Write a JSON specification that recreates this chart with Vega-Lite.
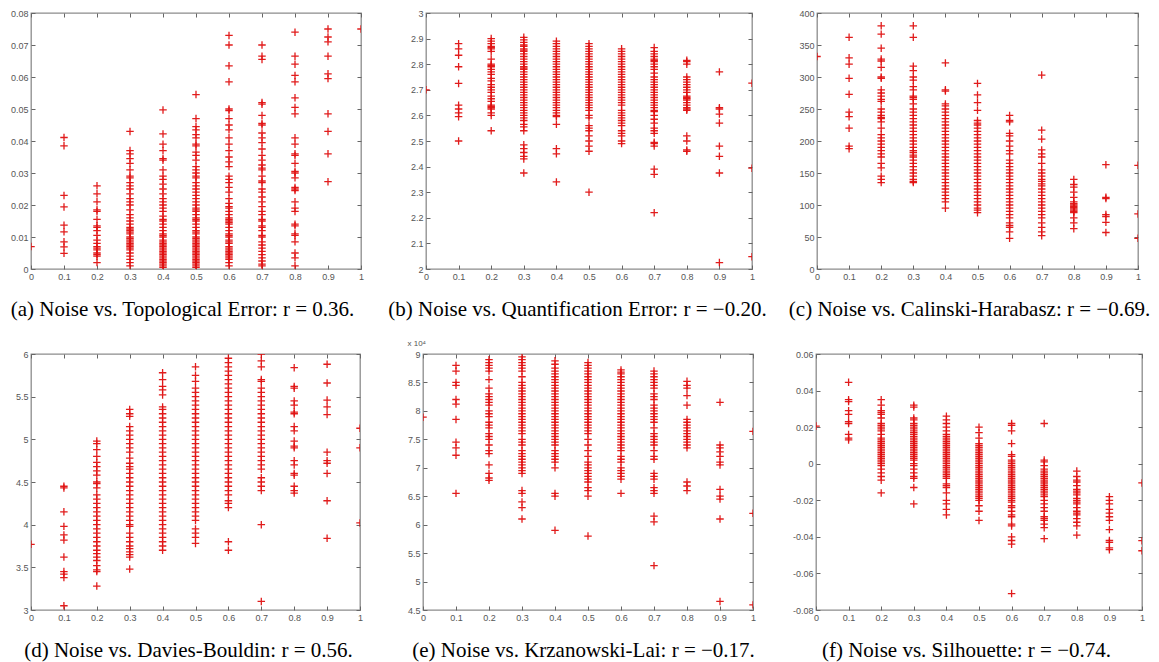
{
"$schema": "https://vega.github.io/schema/vega-lite/v6.json",
"padding": {"left": 9, "top": 8, "right": 5, "bottom": 1},
"background": "white",
"spacing": 19,
"config": {
 "view": {"stroke": "#8c8c8c", "strokeWidth": 1.3},
 "axis": {"domain": false, "grid": false, "tickSize": -4, "tickColor": "#666", "tickWidth": 1, "labelFont": "Liberation Sans", "labelFontSize": 9, "labelColor": "#555", "labelPadding": 7, "labelFlush": false, "labelOverlap": false, "titleFont": "Liberation Serif", "titleFontSize": 21, "titleFontWeight": "normal", "titleColor": "#000", "titlePadding": 17},
 "point": {"shape": "M-1,0L1,0M0,-1L0,1", "size": 56, "filled": false, "stroke": "#e01010", "strokeWidth": 1.3, "opacity": 0.95}
},
"datasets": {
"a": [
{"x":0,"y":0.007},
{"x":0.1,"y":0.0411},{"x":0.1,"y":0.0385},{"x":0.1,"y":0.023},{"x":0.1,"y":0.0194},{"x":0.1,"y":0.0137},{"x":0.1,"y":0.0116},{"x":0.1,"y":0.0085},{"x":0.1,"y":0.0069},{"x":0.1,"y":0.0049},
{"x":0.2,"y":0.026},{"x":0.2,"y":0.0235},{"x":0.2,"y":0.021},{"x":0.2,"y":0.0185},{"x":0.2,"y":0.018},{"x":0.2,"y":0.0155},{"x":0.2,"y":0.0135},{"x":0.2,"y":0.013},{"x":0.2,"y":0.012},{"x":0.2,"y":0.0105},{"x":0.2,"y":0.009},{"x":0.2,"y":0.008},{"x":0.2,"y":0.007},{"x":0.2,"y":0.0065},{"x":0.2,"y":0.006},{"x":0.2,"y":0.005},{"x":0.2,"y":0.0045},{"x":0.2,"y":0.004},{"x":0.2,"y":0.002},
{"x":0.3,"y":0.043},{"x":0.3,"y":0.037},{"x":0.3,"y":0.036},{"x":0.3,"y":0.0345},{"x":0.3,"y":0.033},{"x":0.3,"y":0.031},{"x":0.3,"y":0.029},{"x":0.3,"y":0.0285},{"x":0.3,"y":0.027},{"x":0.3,"y":0.026},{"x":0.3,"y":0.025},{"x":0.3,"y":0.0235},{"x":0.3,"y":0.022},{"x":0.3,"y":0.021},{"x":0.3,"y":0.02},{"x":0.3,"y":0.0185},{"x":0.3,"y":0.017},{"x":0.3,"y":0.016},{"x":0.3,"y":0.015},{"x":0.3,"y":0.014},{"x":0.3,"y":0.013},{"x":0.3,"y":0.0125},{"x":0.3,"y":0.012},{"x":0.3,"y":0.0115},{"x":0.3,"y":0.011},{"x":0.3,"y":0.01},{"x":0.3,"y":0.0095},{"x":0.3,"y":0.009},{"x":0.3,"y":0.0085},{"x":0.3,"y":0.008},{"x":0.3,"y":0.0075},{"x":0.3,"y":0.007},{"x":0.3,"y":0.0065},{"x":0.3,"y":0.006},{"x":0.3,"y":0.005},{"x":0.3,"y":0.004},{"x":0.3,"y":0.003},{"x":0.3,"y":0.002},{"x":0.3,"y":0.001},
{"x":0.4,"y":0.0497},{"x":0.4,"y":0.0422},{"x":0.4,"y":0.039},{"x":0.4,"y":0.037},{"x":0.4,"y":0.0345},{"x":0.4,"y":0.034},{"x":0.4,"y":0.031},{"x":0.4,"y":0.029},{"x":0.4,"y":0.028},{"x":0.4,"y":0.0265},{"x":0.4,"y":0.025},{"x":0.4,"y":0.0235},{"x":0.4,"y":0.022},{"x":0.4,"y":0.021},{"x":0.4,"y":0.02},{"x":0.4,"y":0.019},{"x":0.4,"y":0.018},{"x":0.4,"y":0.0165},{"x":0.4,"y":0.0155},{"x":0.4,"y":0.015},{"x":0.4,"y":0.014},{"x":0.4,"y":0.013},{"x":0.4,"y":0.012},{"x":0.4,"y":0.011},{"x":0.4,"y":0.0105},{"x":0.4,"y":0.01},{"x":0.4,"y":0.009},{"x":0.4,"y":0.0085},{"x":0.4,"y":0.008},{"x":0.4,"y":0.0075},{"x":0.4,"y":0.007},{"x":0.4,"y":0.0065},{"x":0.4,"y":0.006},{"x":0.4,"y":0.0055},{"x":0.4,"y":0.005},{"x":0.4,"y":0.0045},{"x":0.4,"y":0.004},{"x":0.4,"y":0.0035},{"x":0.4,"y":0.003},{"x":0.4,"y":0.0025},{"x":0.4,"y":0.002},{"x":0.4,"y":0.0015},{"x":0.4,"y":0.001},{"x":0.4,"y":0.0005},
{"x":0.5,"y":0.0545},{"x":0.5,"y":0.047},{"x":0.5,"y":0.0445},{"x":0.5,"y":0.0435},{"x":0.5,"y":0.042},{"x":0.5,"y":0.041},{"x":0.5,"y":0.039},{"x":0.5,"y":0.0385},{"x":0.5,"y":0.0365},{"x":0.5,"y":0.0355},{"x":0.5,"y":0.034},{"x":0.5,"y":0.032},{"x":0.5,"y":0.031},{"x":0.5,"y":0.03},{"x":0.5,"y":0.029},{"x":0.5,"y":0.0285},{"x":0.5,"y":0.027},{"x":0.5,"y":0.026},{"x":0.5,"y":0.025},{"x":0.5,"y":0.024},{"x":0.5,"y":0.023},{"x":0.5,"y":0.022},{"x":0.5,"y":0.021},{"x":0.5,"y":0.02},{"x":0.5,"y":0.019},{"x":0.5,"y":0.0185},{"x":0.5,"y":0.018},{"x":0.5,"y":0.017},{"x":0.5,"y":0.016},{"x":0.5,"y":0.0155},{"x":0.5,"y":0.015},{"x":0.5,"y":0.014},{"x":0.5,"y":0.013},{"x":0.5,"y":0.012},{"x":0.5,"y":0.0115},{"x":0.5,"y":0.011},{"x":0.5,"y":0.01},{"x":0.5,"y":0.0095},{"x":0.5,"y":0.009},{"x":0.5,"y":0.0085},{"x":0.5,"y":0.008},{"x":0.5,"y":0.0075},{"x":0.5,"y":0.007},{"x":0.5,"y":0.0065},{"x":0.5,"y":0.006},{"x":0.5,"y":0.0055},{"x":0.5,"y":0.005},{"x":0.5,"y":0.0045},{"x":0.5,"y":0.004},{"x":0.5,"y":0.0035},{"x":0.5,"y":0.003},{"x":0.5,"y":0.0025},{"x":0.5,"y":0.002},{"x":0.5,"y":0.0015},{"x":0.5,"y":0.001},{"x":0.5,"y":0.0005},
{"x":0.6,"y":0.073},{"x":0.6,"y":0.07},{"x":0.6,"y":0.0635},{"x":0.6,"y":0.0585},{"x":0.6,"y":0.05},{"x":0.6,"y":0.0495},{"x":0.6,"y":0.047},{"x":0.6,"y":0.045},{"x":0.6,"y":0.0435},{"x":0.6,"y":0.041},{"x":0.6,"y":0.039},{"x":0.6,"y":0.037},{"x":0.6,"y":0.035},{"x":0.6,"y":0.0335},{"x":0.6,"y":0.032},{"x":0.6,"y":0.029},{"x":0.6,"y":0.028},{"x":0.6,"y":0.027},{"x":0.6,"y":0.0255},{"x":0.6,"y":0.024},{"x":0.6,"y":0.022},{"x":0.6,"y":0.0205},{"x":0.6,"y":0.0195},{"x":0.6,"y":0.019},{"x":0.6,"y":0.018},{"x":0.6,"y":0.017},{"x":0.6,"y":0.016},{"x":0.6,"y":0.0155},{"x":0.6,"y":0.015},{"x":0.6,"y":0.0145},{"x":0.6,"y":0.014},{"x":0.6,"y":0.013},{"x":0.6,"y":0.012},{"x":0.6,"y":0.011},{"x":0.6,"y":0.0105},{"x":0.6,"y":0.01},{"x":0.6,"y":0.009},{"x":0.6,"y":0.0085},{"x":0.6,"y":0.008},{"x":0.6,"y":0.007},{"x":0.6,"y":0.0065},{"x":0.6,"y":0.006},{"x":0.6,"y":0.0055},{"x":0.6,"y":0.005},{"x":0.6,"y":0.0045},{"x":0.6,"y":0.004},{"x":0.6,"y":0.0035},{"x":0.6,"y":0.003},{"x":0.6,"y":0.002},{"x":0.6,"y":0.001},
{"x":0.7,"y":0.07},{"x":0.7,"y":0.0665},{"x":0.7,"y":0.0655},{"x":0.7,"y":0.052},{"x":0.7,"y":0.0515},{"x":0.7,"y":0.048},{"x":0.7,"y":0.0455},{"x":0.7,"y":0.045},{"x":0.7,"y":0.0425},{"x":0.7,"y":0.041},{"x":0.7,"y":0.0395},{"x":0.7,"y":0.0375},{"x":0.7,"y":0.0355},{"x":0.7,"y":0.034},{"x":0.7,"y":0.0325},{"x":0.7,"y":0.0315},{"x":0.7,"y":0.031},{"x":0.7,"y":0.029},{"x":0.7,"y":0.0275},{"x":0.7,"y":0.027},{"x":0.7,"y":0.025},{"x":0.7,"y":0.024},{"x":0.7,"y":0.0225},{"x":0.7,"y":0.021},{"x":0.7,"y":0.0195},{"x":0.7,"y":0.018},{"x":0.7,"y":0.017},{"x":0.7,"y":0.0155},{"x":0.7,"y":0.015},{"x":0.7,"y":0.0135},{"x":0.7,"y":0.013},{"x":0.7,"y":0.012},{"x":0.7,"y":0.0105},{"x":0.7,"y":0.01},{"x":0.7,"y":0.0085},{"x":0.7,"y":0.0075},{"x":0.7,"y":0.0065},{"x":0.7,"y":0.0055},{"x":0.7,"y":0.0045},{"x":0.7,"y":0.0035},{"x":0.7,"y":0.0025},{"x":0.7,"y":0.0015},{"x":0.7,"y":0.001},
{"x":0.8,"y":0.074},{"x":0.8,"y":0.0665},{"x":0.8,"y":0.064},{"x":0.8,"y":0.0605},{"x":0.8,"y":0.0585},{"x":0.8,"y":0.0535},{"x":0.8,"y":0.0505},{"x":0.8,"y":0.0485},{"x":0.8,"y":0.041},{"x":0.8,"y":0.039},{"x":0.8,"y":0.036},{"x":0.8,"y":0.0355},{"x":0.8,"y":0.033},{"x":0.8,"y":0.0305},{"x":0.8,"y":0.03},{"x":0.8,"y":0.0285},{"x":0.8,"y":0.0255},{"x":0.8,"y":0.025},{"x":0.8,"y":0.0245},{"x":0.8,"y":0.021},{"x":0.8,"y":0.019},{"x":0.8,"y":0.018},{"x":0.8,"y":0.014},{"x":0.8,"y":0.0135},{"x":0.8,"y":0.011},{"x":0.8,"y":0.0105},{"x":0.8,"y":0.0085},{"x":0.8,"y":0.005},{"x":0.8,"y":0.0035},{"x":0.8,"y":0.001},
{"x":0.9,"y":0.075},{"x":0.9,"y":0.0725},{"x":0.9,"y":0.071},{"x":0.9,"y":0.0665},{"x":0.9,"y":0.061},{"x":0.9,"y":0.0595},{"x":0.9,"y":0.0485},{"x":0.9,"y":0.043},{"x":0.9,"y":0.036},{"x":0.9,"y":0.0273},
{"x":1,"y":0.075}
],
"b": [
{"x":0,"y":2.7},{"x":1,"y":2.726},{"x":1,"y":2.394},{"x":1,"y":2.048},
{"x":0.1,"y":2.88},{"x":0.1,"y":2.86},{"x":0.1,"y":2.835},{"x":0.1,"y":2.79},{"x":0.1,"y":2.725},{"x":0.1,"y":2.64},{"x":0.1,"y":2.625},{"x":0.1,"y":2.61},{"x":0.1,"y":2.595},{"x":0.1,"y":2.5},
{"x":0.2,"y":2.9},{"x":0.2,"y":2.89},{"x":0.2,"y":2.88},{"x":0.2,"y":2.87},{"x":0.2,"y":2.865},{"x":0.2,"y":2.86},{"x":0.2,"y":2.85},{"x":0.2,"y":2.82},{"x":0.2,"y":2.8},{"x":0.2,"y":2.795},{"x":0.2,"y":2.79},{"x":0.2,"y":2.78},{"x":0.2,"y":2.77},{"x":0.2,"y":2.76},{"x":0.2,"y":2.745},{"x":0.2,"y":2.735},{"x":0.2,"y":2.72},{"x":0.2,"y":2.71},{"x":0.2,"y":2.7},{"x":0.2,"y":2.69},{"x":0.2,"y":2.675},{"x":0.2,"y":2.665},{"x":0.2,"y":2.655},{"x":0.2,"y":2.64},{"x":0.2,"y":2.635},{"x":0.2,"y":2.63},{"x":0.2,"y":2.625},{"x":0.2,"y":2.61},{"x":0.2,"y":2.6},{"x":0.2,"y":2.54},
{"x":0.3,"y":2.905},{"x":0.3,"y":2.895},{"x":0.3,"y":2.885},{"x":0.3,"y":2.875},{"x":0.3,"y":2.87},{"x":0.3,"y":2.86},{"x":0.3,"y":2.855},{"x":0.3,"y":2.85},{"x":0.3,"y":2.84},{"x":0.3,"y":2.83},{"x":0.3,"y":2.82},{"x":0.3,"y":2.81},{"x":0.3,"y":2.8},{"x":0.3,"y":2.79},{"x":0.3,"y":2.785},{"x":0.3,"y":2.78},{"x":0.3,"y":2.77},{"x":0.3,"y":2.76},{"x":0.3,"y":2.75},{"x":0.3,"y":2.74},{"x":0.3,"y":2.73},{"x":0.3,"y":2.72},{"x":0.3,"y":2.71},{"x":0.3,"y":2.7},{"x":0.3,"y":2.69},{"x":0.3,"y":2.68},{"x":0.3,"y":2.67},{"x":0.3,"y":2.66},{"x":0.3,"y":2.65},{"x":0.3,"y":2.64},{"x":0.3,"y":2.63},{"x":0.3,"y":2.62},{"x":0.3,"y":2.61},{"x":0.3,"y":2.6},{"x":0.3,"y":2.59},{"x":0.3,"y":2.58},{"x":0.3,"y":2.565},{"x":0.3,"y":2.555},{"x":0.3,"y":2.54},{"x":0.3,"y":2.485},{"x":0.3,"y":2.47},{"x":0.3,"y":2.455},{"x":0.3,"y":2.44},{"x":0.3,"y":2.43},{"x":0.3,"y":2.375},
{"x":0.4,"y":2.89},{"x":0.4,"y":2.88},{"x":0.4,"y":2.87},{"x":0.4,"y":2.86},{"x":0.4,"y":2.85},{"x":0.4,"y":2.84},{"x":0.4,"y":2.83},{"x":0.4,"y":2.82},{"x":0.4,"y":2.81},{"x":0.4,"y":2.8},{"x":0.4,"y":2.79},{"x":0.4,"y":2.78},{"x":0.4,"y":2.77},{"x":0.4,"y":2.76},{"x":0.4,"y":2.75},{"x":0.4,"y":2.74},{"x":0.4,"y":2.73},{"x":0.4,"y":2.72},{"x":0.4,"y":2.71},{"x":0.4,"y":2.7},{"x":0.4,"y":2.69},{"x":0.4,"y":2.68},{"x":0.4,"y":2.67},{"x":0.4,"y":2.66},{"x":0.4,"y":2.65},{"x":0.4,"y":2.64},{"x":0.4,"y":2.63},{"x":0.4,"y":2.62},{"x":0.4,"y":2.61},{"x":0.4,"y":2.6},{"x":0.4,"y":2.595},{"x":0.4,"y":2.565},{"x":0.4,"y":2.47},{"x":0.4,"y":2.45},{"x":0.4,"y":2.34},
{"x":0.5,"y":2.88},{"x":0.5,"y":2.87},{"x":0.5,"y":2.86},{"x":0.5,"y":2.85},{"x":0.5,"y":2.84},{"x":0.5,"y":2.83},{"x":0.5,"y":2.82},{"x":0.5,"y":2.81},{"x":0.5,"y":2.8},{"x":0.5,"y":2.79},{"x":0.5,"y":2.78},{"x":0.5,"y":2.77},{"x":0.5,"y":2.76},{"x":0.5,"y":2.75},{"x":0.5,"y":2.74},{"x":0.5,"y":2.73},{"x":0.5,"y":2.72},{"x":0.5,"y":2.71},{"x":0.5,"y":2.7},{"x":0.5,"y":2.69},{"x":0.5,"y":2.68},{"x":0.5,"y":2.67},{"x":0.5,"y":2.66},{"x":0.5,"y":2.65},{"x":0.5,"y":2.64},{"x":0.5,"y":2.63},{"x":0.5,"y":2.62},{"x":0.5,"y":2.6},{"x":0.5,"y":2.59},{"x":0.5,"y":2.56},{"x":0.5,"y":2.55},{"x":0.5,"y":2.54},{"x":0.5,"y":2.52},{"x":0.5,"y":2.5},{"x":0.5,"y":2.48},{"x":0.5,"y":2.46},{"x":0.5,"y":2.3},
{"x":0.6,"y":2.86},{"x":0.6,"y":2.85},{"x":0.6,"y":2.84},{"x":0.6,"y":2.83},{"x":0.6,"y":2.82},{"x":0.6,"y":2.81},{"x":0.6,"y":2.8},{"x":0.6,"y":2.79},{"x":0.6,"y":2.78},{"x":0.6,"y":2.77},{"x":0.6,"y":2.76},{"x":0.6,"y":2.75},{"x":0.6,"y":2.74},{"x":0.6,"y":2.73},{"x":0.6,"y":2.72},{"x":0.6,"y":2.71},{"x":0.6,"y":2.7},{"x":0.6,"y":2.69},{"x":0.6,"y":2.68},{"x":0.6,"y":2.67},{"x":0.6,"y":2.66},{"x":0.6,"y":2.65},{"x":0.6,"y":2.64},{"x":0.6,"y":2.62},{"x":0.6,"y":2.61},{"x":0.6,"y":2.6},{"x":0.6,"y":2.59},{"x":0.6,"y":2.58},{"x":0.6,"y":2.57},{"x":0.6,"y":2.56},{"x":0.6,"y":2.54},{"x":0.6,"y":2.53},{"x":0.6,"y":2.52},{"x":0.6,"y":2.5},{"x":0.6,"y":2.49},
{"x":0.7,"y":2.865},{"x":0.7,"y":2.85},{"x":0.7,"y":2.84},{"x":0.7,"y":2.83},{"x":0.7,"y":2.82},{"x":0.7,"y":2.815},{"x":0.7,"y":2.81},{"x":0.7,"y":2.8},{"x":0.7,"y":2.79},{"x":0.7,"y":2.78},{"x":0.7,"y":2.765},{"x":0.7,"y":2.75},{"x":0.7,"y":2.74},{"x":0.7,"y":2.73},{"x":0.7,"y":2.72},{"x":0.7,"y":2.71},{"x":0.7,"y":2.7},{"x":0.7,"y":2.69},{"x":0.7,"y":2.68},{"x":0.7,"y":2.67},{"x":0.7,"y":2.66},{"x":0.7,"y":2.65},{"x":0.7,"y":2.64},{"x":0.7,"y":2.63},{"x":0.7,"y":2.62},{"x":0.7,"y":2.615},{"x":0.7,"y":2.6},{"x":0.7,"y":2.585},{"x":0.7,"y":2.57},{"x":0.7,"y":2.55},{"x":0.7,"y":2.54},{"x":0.7,"y":2.53},{"x":0.7,"y":2.495},{"x":0.7,"y":2.49},{"x":0.7,"y":2.48},{"x":0.7,"y":2.39},{"x":0.7,"y":2.37},{"x":0.7,"y":2.22},
{"x":0.8,"y":2.815},{"x":0.8,"y":2.81},{"x":0.8,"y":2.8},{"x":0.8,"y":2.75},{"x":0.8,"y":2.74},{"x":0.8,"y":2.73},{"x":0.8,"y":2.72},{"x":0.8,"y":2.71},{"x":0.8,"y":2.7},{"x":0.8,"y":2.69},{"x":0.8,"y":2.675},{"x":0.8,"y":2.67},{"x":0.8,"y":2.665},{"x":0.8,"y":2.66},{"x":0.8,"y":2.65},{"x":0.8,"y":2.64},{"x":0.8,"y":2.63},{"x":0.8,"y":2.625},{"x":0.8,"y":2.62},{"x":0.8,"y":2.52},{"x":0.8,"y":2.5},{"x":0.8,"y":2.465},{"x":0.8,"y":2.46},
{"x":0.9,"y":2.77},{"x":0.9,"y":2.63},{"x":0.9,"y":2.625},{"x":0.9,"y":2.605},{"x":0.9,"y":2.57},{"x":0.9,"y":2.48},{"x":0.9,"y":2.44},{"x":0.9,"y":2.375},{"x":0.9,"y":2.025}
],
"c": [
{"x":0,"y":332},{"x":1,"y":162},{"x":1,"y":86},{"x":1,"y":48},
{"x":0.1,"y":362},{"x":0.1,"y":330},{"x":0.1,"y":320},{"x":0.1,"y":298},{"x":0.1,"y":273},{"x":0.1,"y":245},{"x":0.1,"y":238},{"x":0.1,"y":220},{"x":0.1,"y":192},{"x":0.1,"y":188},
{"x":0.2,"y":380},{"x":0.2,"y":367},{"x":0.2,"y":345},{"x":0.2,"y":328},{"x":0.2,"y":325},{"x":0.2,"y":315},{"x":0.2,"y":300},{"x":0.2,"y":298},{"x":0.2,"y":280},{"x":0.2,"y":275},{"x":0.2,"y":270},{"x":0.2,"y":265},{"x":0.2,"y":262},{"x":0.2,"y":250},{"x":0.2,"y":245},{"x":0.2,"y":240},{"x":0.2,"y":237},{"x":0.2,"y":235},{"x":0.2,"y":230},{"x":0.2,"y":220},{"x":0.2,"y":210},{"x":0.2,"y":205},{"x":0.2,"y":200},{"x":0.2,"y":195},{"x":0.2,"y":190},{"x":0.2,"y":185},{"x":0.2,"y":180},{"x":0.2,"y":175},{"x":0.2,"y":165},{"x":0.2,"y":158},{"x":0.2,"y":145},{"x":0.2,"y":140},{"x":0.2,"y":135},
{"x":0.3,"y":380},{"x":0.3,"y":362},{"x":0.3,"y":317},{"x":0.3,"y":310},{"x":0.3,"y":300},{"x":0.3,"y":295},{"x":0.3,"y":285},{"x":0.3,"y":280},{"x":0.3,"y":270},{"x":0.3,"y":268},{"x":0.3,"y":265},{"x":0.3,"y":258},{"x":0.3,"y":250},{"x":0.3,"y":245},{"x":0.3,"y":240},{"x":0.3,"y":235},{"x":0.3,"y":230},{"x":0.3,"y":225},{"x":0.3,"y":220},{"x":0.3,"y":215},{"x":0.3,"y":210},{"x":0.3,"y":205},{"x":0.3,"y":200},{"x":0.3,"y":195},{"x":0.3,"y":190},{"x":0.3,"y":185},{"x":0.3,"y":182},{"x":0.3,"y":178},{"x":0.3,"y":175},{"x":0.3,"y":170},{"x":0.3,"y":165},{"x":0.3,"y":160},{"x":0.3,"y":155},{"x":0.3,"y":150},{"x":0.3,"y":145},{"x":0.3,"y":140},{"x":0.3,"y":137},{"x":0.3,"y":135},
{"x":0.4,"y":322},{"x":0.4,"y":280},{"x":0.4,"y":278},{"x":0.4,"y":258},{"x":0.4,"y":255},{"x":0.4,"y":250},{"x":0.4,"y":245},{"x":0.4,"y":240},{"x":0.4,"y":235},{"x":0.4,"y":230},{"x":0.4,"y":225},{"x":0.4,"y":220},{"x":0.4,"y":215},{"x":0.4,"y":210},{"x":0.4,"y":205},{"x":0.4,"y":200},{"x":0.4,"y":195},{"x":0.4,"y":190},{"x":0.4,"y":185},{"x":0.4,"y":180},{"x":0.4,"y":175},{"x":0.4,"y":170},{"x":0.4,"y":165},{"x":0.4,"y":160},{"x":0.4,"y":155},{"x":0.4,"y":150},{"x":0.4,"y":145},{"x":0.4,"y":140},{"x":0.4,"y":135},{"x":0.4,"y":130},{"x":0.4,"y":125},{"x":0.4,"y":120},{"x":0.4,"y":115},{"x":0.4,"y":110},{"x":0.4,"y":105},{"x":0.4,"y":95},
{"x":0.5,"y":290},{"x":0.5,"y":272},{"x":0.5,"y":260},{"x":0.5,"y":248},{"x":0.5,"y":232},{"x":0.5,"y":228},{"x":0.5,"y":225},{"x":0.5,"y":220},{"x":0.5,"y":215},{"x":0.5,"y":210},{"x":0.5,"y":205},{"x":0.5,"y":200},{"x":0.5,"y":195},{"x":0.5,"y":190},{"x":0.5,"y":185},{"x":0.5,"y":180},{"x":0.5,"y":175},{"x":0.5,"y":170},{"x":0.5,"y":165},{"x":0.5,"y":160},{"x":0.5,"y":155},{"x":0.5,"y":150},{"x":0.5,"y":145},{"x":0.5,"y":140},{"x":0.5,"y":135},{"x":0.5,"y":130},{"x":0.5,"y":125},{"x":0.5,"y":120},{"x":0.5,"y":115},{"x":0.5,"y":110},{"x":0.5,"y":105},{"x":0.5,"y":100},{"x":0.5,"y":95},{"x":0.5,"y":92},{"x":0.5,"y":88},
{"x":0.6,"y":240},{"x":0.6,"y":232},{"x":0.6,"y":230},{"x":0.6,"y":212},{"x":0.6,"y":208},{"x":0.6,"y":200},{"x":0.6,"y":192},{"x":0.6,"y":185},{"x":0.6,"y":180},{"x":0.6,"y":170},{"x":0.6,"y":165},{"x":0.6,"y":160},{"x":0.6,"y":155},{"x":0.6,"y":150},{"x":0.6,"y":145},{"x":0.6,"y":140},{"x":0.6,"y":135},{"x":0.6,"y":130},{"x":0.6,"y":125},{"x":0.6,"y":120},{"x":0.6,"y":115},{"x":0.6,"y":110},{"x":0.6,"y":105},{"x":0.6,"y":100},{"x":0.6,"y":95},{"x":0.6,"y":90},{"x":0.6,"y":85},{"x":0.6,"y":80},{"x":0.6,"y":72},{"x":0.6,"y":68},{"x":0.6,"y":65},{"x":0.6,"y":58},{"x":0.6,"y":48},
{"x":0.7,"y":303},{"x":0.7,"y":217},{"x":0.7,"y":203},{"x":0.7,"y":186},{"x":0.7,"y":180},{"x":0.7,"y":175},{"x":0.7,"y":165},{"x":0.7,"y":155},{"x":0.7,"y":150},{"x":0.7,"y":145},{"x":0.7,"y":140},{"x":0.7,"y":137},{"x":0.7,"y":133},{"x":0.7,"y":130},{"x":0.7,"y":125},{"x":0.7,"y":120},{"x":0.7,"y":115},{"x":0.7,"y":110},{"x":0.7,"y":105},{"x":0.7,"y":100},{"x":0.7,"y":95},{"x":0.7,"y":90},{"x":0.7,"y":85},{"x":0.7,"y":80},{"x":0.7,"y":72},{"x":0.7,"y":65},{"x":0.7,"y":58},{"x":0.7,"y":52},
{"x":0.8,"y":140},{"x":0.8,"y":132},{"x":0.8,"y":128},{"x":0.8,"y":120},{"x":0.8,"y":112},{"x":0.8,"y":105},{"x":0.8,"y":102},{"x":0.8,"y":100},{"x":0.8,"y":98},{"x":0.8,"y":96},{"x":0.8,"y":94},{"x":0.8,"y":92},{"x":0.8,"y":90},{"x":0.8,"y":88},{"x":0.8,"y":80},{"x":0.8,"y":72},{"x":0.8,"y":63},
{"x":0.9,"y":163},{"x":0.9,"y":112},{"x":0.9,"y":110},{"x":0.9,"y":85},{"x":0.9,"y":82},{"x":0.9,"y":73},{"x":0.9,"y":57}
],
"d": [
{"x":0,"y":3.77},{"x":1,"y":5.13},{"x":1,"y":4.9},{"x":1,"y":4.02},
{"x":0.1,"y":4.45},{"x":0.1,"y":4.43},{"x":0.1,"y":4.15},{"x":0.1,"y":3.98},{"x":0.1,"y":3.88},{"x":0.1,"y":3.82},{"x":0.1,"y":3.62},{"x":0.1,"y":3.45},{"x":0.1,"y":3.42},{"x":0.1,"y":3.38},{"x":0.1,"y":3.05},
{"x":0.2,"y":4.98},{"x":0.2,"y":4.95},{"x":0.2,"y":4.88},{"x":0.2,"y":4.8},{"x":0.2,"y":4.73},{"x":0.2,"y":4.68},{"x":0.2,"y":4.63},{"x":0.2,"y":4.58},{"x":0.2,"y":4.5},{"x":0.2,"y":4.48},{"x":0.2,"y":4.43},{"x":0.2,"y":4.35},{"x":0.2,"y":4.3},{"x":0.2,"y":4.25},{"x":0.2,"y":4.2},{"x":0.2,"y":4.15},{"x":0.2,"y":4.1},{"x":0.2,"y":4.05},{"x":0.2,"y":4.0},{"x":0.2,"y":3.95},{"x":0.2,"y":3.9},{"x":0.2,"y":3.85},{"x":0.2,"y":3.8},{"x":0.2,"y":3.75},{"x":0.2,"y":3.7},{"x":0.2,"y":3.66},{"x":0.2,"y":3.62},{"x":0.2,"y":3.58},{"x":0.2,"y":3.52},{"x":0.2,"y":3.47},{"x":0.2,"y":3.45},{"x":0.2,"y":3.28},
{"x":0.3,"y":5.35},{"x":0.3,"y":5.3},{"x":0.3,"y":5.27},{"x":0.3,"y":5.15},{"x":0.3,"y":5.1},{"x":0.3,"y":5.05},{"x":0.3,"y":5.0},{"x":0.3,"y":4.95},{"x":0.3,"y":4.9},{"x":0.3,"y":4.85},{"x":0.3,"y":4.78},{"x":0.3,"y":4.72},{"x":0.3,"y":4.68},{"x":0.3,"y":4.65},{"x":0.3,"y":4.6},{"x":0.3,"y":4.55},{"x":0.3,"y":4.5},{"x":0.3,"y":4.45},{"x":0.3,"y":4.4},{"x":0.3,"y":4.35},{"x":0.3,"y":4.3},{"x":0.3,"y":4.25},{"x":0.3,"y":4.2},{"x":0.3,"y":4.15},{"x":0.3,"y":4.1},{"x":0.3,"y":4.05},{"x":0.3,"y":4.0},{"x":0.3,"y":3.98},{"x":0.3,"y":3.9},{"x":0.3,"y":3.85},{"x":0.3,"y":3.8},{"x":0.3,"y":3.75},{"x":0.3,"y":3.72},{"x":0.3,"y":3.68},{"x":0.3,"y":3.65},{"x":0.3,"y":3.62},{"x":0.3,"y":3.48},
{"x":0.4,"y":5.78},{"x":0.4,"y":5.7},{"x":0.4,"y":5.62},{"x":0.4,"y":5.58},{"x":0.4,"y":5.52},{"x":0.4,"y":5.38},{"x":0.4,"y":5.35},{"x":0.4,"y":5.3},{"x":0.4,"y":5.25},{"x":0.4,"y":5.2},{"x":0.4,"y":5.15},{"x":0.4,"y":5.1},{"x":0.4,"y":5.05},{"x":0.4,"y":5.0},{"x":0.4,"y":4.95},{"x":0.4,"y":4.9},{"x":0.4,"y":4.85},{"x":0.4,"y":4.8},{"x":0.4,"y":4.75},{"x":0.4,"y":4.7},{"x":0.4,"y":4.65},{"x":0.4,"y":4.6},{"x":0.4,"y":4.55},{"x":0.4,"y":4.5},{"x":0.4,"y":4.45},{"x":0.4,"y":4.4},{"x":0.4,"y":4.35},{"x":0.4,"y":4.3},{"x":0.4,"y":4.25},{"x":0.4,"y":4.2},{"x":0.4,"y":4.15},{"x":0.4,"y":4.1},{"x":0.4,"y":4.05},{"x":0.4,"y":4.0},{"x":0.4,"y":3.95},{"x":0.4,"y":3.9},{"x":0.4,"y":3.85},{"x":0.4,"y":3.8},{"x":0.4,"y":3.75},{"x":0.4,"y":3.7},
{"x":0.5,"y":5.85},{"x":0.5,"y":5.75},{"x":0.5,"y":5.68},{"x":0.5,"y":5.6},{"x":0.5,"y":5.55},{"x":0.5,"y":5.5},{"x":0.5,"y":5.45},{"x":0.5,"y":5.4},{"x":0.5,"y":5.35},{"x":0.5,"y":5.3},{"x":0.5,"y":5.25},{"x":0.5,"y":5.2},{"x":0.5,"y":5.15},{"x":0.5,"y":5.1},{"x":0.5,"y":5.05},{"x":0.5,"y":5.0},{"x":0.5,"y":4.95},{"x":0.5,"y":4.9},{"x":0.5,"y":4.85},{"x":0.5,"y":4.8},{"x":0.5,"y":4.75},{"x":0.5,"y":4.7},{"x":0.5,"y":4.65},{"x":0.5,"y":4.6},{"x":0.5,"y":4.55},{"x":0.5,"y":4.5},{"x":0.5,"y":4.45},{"x":0.5,"y":4.4},{"x":0.5,"y":4.35},{"x":0.5,"y":4.3},{"x":0.5,"y":4.25},{"x":0.5,"y":4.2},{"x":0.5,"y":4.15},{"x":0.5,"y":4.1},{"x":0.5,"y":4.05},{"x":0.5,"y":3.95},{"x":0.5,"y":3.9},{"x":0.5,"y":3.85},{"x":0.5,"y":3.78},
{"x":0.6,"y":5.95},{"x":0.6,"y":5.9},{"x":0.6,"y":5.85},{"x":0.6,"y":5.8},{"x":0.6,"y":5.75},{"x":0.6,"y":5.7},{"x":0.6,"y":5.65},{"x":0.6,"y":5.6},{"x":0.6,"y":5.55},{"x":0.6,"y":5.5},{"x":0.6,"y":5.45},{"x":0.6,"y":5.4},{"x":0.6,"y":5.35},{"x":0.6,"y":5.3},{"x":0.6,"y":5.25},{"x":0.6,"y":5.2},{"x":0.6,"y":5.15},{"x":0.6,"y":5.1},{"x":0.6,"y":5.05},{"x":0.6,"y":5.0},{"x":0.6,"y":4.95},{"x":0.6,"y":4.9},{"x":0.6,"y":4.85},{"x":0.6,"y":4.8},{"x":0.6,"y":4.75},{"x":0.6,"y":4.7},{"x":0.6,"y":4.65},{"x":0.6,"y":4.6},{"x":0.6,"y":4.55},{"x":0.6,"y":4.5},{"x":0.6,"y":4.45},{"x":0.6,"y":4.4},{"x":0.6,"y":4.35},{"x":0.6,"y":4.28},{"x":0.6,"y":4.25},{"x":0.6,"y":4.2},{"x":0.6,"y":3.8},{"x":0.6,"y":3.7},
{"x":0.7,"y":6.0},{"x":0.7,"y":5.92},{"x":0.7,"y":5.85},{"x":0.7,"y":5.7},{"x":0.7,"y":5.68},{"x":0.7,"y":5.6},{"x":0.7,"y":5.55},{"x":0.7,"y":5.5},{"x":0.7,"y":5.45},{"x":0.7,"y":5.4},{"x":0.7,"y":5.35},{"x":0.7,"y":5.3},{"x":0.7,"y":5.25},{"x":0.7,"y":5.2},{"x":0.7,"y":5.15},{"x":0.7,"y":5.1},{"x":0.7,"y":5.05},{"x":0.7,"y":5.0},{"x":0.7,"y":4.95},{"x":0.7,"y":4.9},{"x":0.7,"y":4.85},{"x":0.7,"y":4.8},{"x":0.7,"y":4.75},{"x":0.7,"y":4.7},{"x":0.7,"y":4.65},{"x":0.7,"y":4.55},{"x":0.7,"y":4.5},{"x":0.7,"y":4.45},{"x":0.7,"y":4.4},{"x":0.7,"y":4.0},{"x":0.7,"y":3.1},
{"x":0.8,"y":5.84},{"x":0.8,"y":5.62},{"x":0.8,"y":5.6},{"x":0.8,"y":5.45},{"x":0.8,"y":5.4},{"x":0.8,"y":5.32},{"x":0.8,"y":5.3},{"x":0.8,"y":5.15},{"x":0.8,"y":5.1},{"x":0.8,"y":4.98},{"x":0.8,"y":4.92},{"x":0.8,"y":4.9},{"x":0.8,"y":4.75},{"x":0.8,"y":4.7},{"x":0.8,"y":4.6},{"x":0.8,"y":4.58},{"x":0.8,"y":4.45},{"x":0.8,"y":4.4},{"x":0.8,"y":4.37},
{"x":0.9,"y":5.88},{"x":0.9,"y":5.66},{"x":0.9,"y":5.46},{"x":0.9,"y":5.38},{"x":0.9,"y":5.29},{"x":0.9,"y":4.85},{"x":0.9,"y":4.75},{"x":0.9,"y":4.72},{"x":0.9,"y":4.6},{"x":0.9,"y":4.28},{"x":0.9,"y":3.84}
],
"e": [
{"x":0,"y":78900},{"x":1,"y":76400},{"x":1,"y":62000},{"x":1,"y":45900},
{"x":0.1,"y":88000},{"x":0.1,"y":87000},{"x":0.1,"y":85000},{"x":0.1,"y":84500},{"x":0.1,"y":82000},{"x":0.1,"y":81200},{"x":0.1,"y":78500},{"x":0.1,"y":74500},{"x":0.1,"y":73500},{"x":0.1,"y":72200},{"x":0.1,"y":65500},
{"x":0.2,"y":89000},{"x":0.2,"y":88500},{"x":0.2,"y":88000},{"x":0.2,"y":87500},{"x":0.2,"y":87000},{"x":0.2,"y":85500},{"x":0.2,"y":84000},{"x":0.2,"y":83000},{"x":0.2,"y":82500},{"x":0.2,"y":82000},{"x":0.2,"y":81500},{"x":0.2,"y":81000},{"x":0.2,"y":80000},{"x":0.2,"y":79500},{"x":0.2,"y":79000},{"x":0.2,"y":78000},{"x":0.2,"y":77500},{"x":0.2,"y":77000},{"x":0.2,"y":76000},{"x":0.2,"y":75500},{"x":0.2,"y":75000},{"x":0.2,"y":74000},{"x":0.2,"y":73000},{"x":0.2,"y":72500},{"x":0.2,"y":70500},{"x":0.2,"y":69000},{"x":0.2,"y":68200},{"x":0.2,"y":67800},
{"x":0.3,"y":89500},{"x":0.3,"y":89000},{"x":0.3,"y":88500},{"x":0.3,"y":88000},{"x":0.3,"y":87500},{"x":0.3,"y":87000},{"x":0.3,"y":86000},{"x":0.3,"y":85000},{"x":0.3,"y":84500},{"x":0.3,"y":84000},{"x":0.3,"y":83500},{"x":0.3,"y":83000},{"x":0.3,"y":82500},{"x":0.3,"y":82000},{"x":0.3,"y":81500},{"x":0.3,"y":81000},{"x":0.3,"y":80500},{"x":0.3,"y":80000},{"x":0.3,"y":79500},{"x":0.3,"y":79000},{"x":0.3,"y":78500},{"x":0.3,"y":78000},{"x":0.3,"y":77500},{"x":0.3,"y":77000},{"x":0.3,"y":76500},{"x":0.3,"y":76000},{"x":0.3,"y":75000},{"x":0.3,"y":74500},{"x":0.3,"y":74000},{"x":0.3,"y":73000},{"x":0.3,"y":72500},{"x":0.3,"y":72000},{"x":0.3,"y":71500},{"x":0.3,"y":71000},{"x":0.3,"y":70500},{"x":0.3,"y":70000},{"x":0.3,"y":69500},{"x":0.3,"y":69000},{"x":0.3,"y":66000},{"x":0.3,"y":65500},{"x":0.3,"y":64000},{"x":0.3,"y":63000},{"x":0.3,"y":61000},
{"x":0.4,"y":88800},{"x":0.4,"y":88200},{"x":0.4,"y":87500},{"x":0.4,"y":87000},{"x":0.4,"y":86500},{"x":0.4,"y":86000},{"x":0.4,"y":85500},{"x":0.4,"y":85000},{"x":0.4,"y":84500},{"x":0.4,"y":84000},{"x":0.4,"y":83500},{"x":0.4,"y":83000},{"x":0.4,"y":82500},{"x":0.4,"y":82000},{"x":0.4,"y":81500},{"x":0.4,"y":81000},{"x":0.4,"y":80500},{"x":0.4,"y":80000},{"x":0.4,"y":79500},{"x":0.4,"y":79000},{"x":0.4,"y":78500},{"x":0.4,"y":78000},{"x":0.4,"y":77500},{"x":0.4,"y":77000},{"x":0.4,"y":76500},{"x":0.4,"y":76000},{"x":0.4,"y":75500},{"x":0.4,"y":75000},{"x":0.4,"y":74500},{"x":0.4,"y":74000},{"x":0.4,"y":73000},{"x":0.4,"y":72500},{"x":0.4,"y":72000},{"x":0.4,"y":71500},{"x":0.4,"y":71000},{"x":0.4,"y":70000},{"x":0.4,"y":65500},{"x":0.4,"y":65000},{"x":0.4,"y":59000},
{"x":0.5,"y":88500},{"x":0.5,"y":88000},{"x":0.5,"y":87500},{"x":0.5,"y":87000},{"x":0.5,"y":86500},{"x":0.5,"y":86000},{"x":0.5,"y":85500},{"x":0.5,"y":85000},{"x":0.5,"y":84500},{"x":0.5,"y":84000},{"x":0.5,"y":83500},{"x":0.5,"y":83000},{"x":0.5,"y":82500},{"x":0.5,"y":82000},{"x":0.5,"y":81500},{"x":0.5,"y":81000},{"x":0.5,"y":80500},{"x":0.5,"y":80000},{"x":0.5,"y":79500},{"x":0.5,"y":79000},{"x":0.5,"y":78500},{"x":0.5,"y":78000},{"x":0.5,"y":77500},{"x":0.5,"y":77000},{"x":0.5,"y":76500},{"x":0.5,"y":76000},{"x":0.5,"y":75000},{"x":0.5,"y":74000},{"x":0.5,"y":73000},{"x":0.5,"y":72000},{"x":0.5,"y":71000},{"x":0.5,"y":70500},{"x":0.5,"y":70000},{"x":0.5,"y":69500},{"x":0.5,"y":69000},{"x":0.5,"y":68500},{"x":0.5,"y":68000},{"x":0.5,"y":67500},{"x":0.5,"y":66500},{"x":0.5,"y":66000},{"x":0.5,"y":65000},{"x":0.5,"y":58000},
{"x":0.6,"y":87200},{"x":0.6,"y":86800},{"x":0.6,"y":86500},{"x":0.6,"y":86000},{"x":0.6,"y":85500},{"x":0.6,"y":85000},{"x":0.6,"y":84500},{"x":0.6,"y":84000},{"x":0.6,"y":83500},{"x":0.6,"y":83000},{"x":0.6,"y":82500},{"x":0.6,"y":82000},{"x":0.6,"y":81500},{"x":0.6,"y":81000},{"x":0.6,"y":80500},{"x":0.6,"y":80000},{"x":0.6,"y":79500},{"x":0.6,"y":79000},{"x":0.6,"y":78500},{"x":0.6,"y":78000},{"x":0.6,"y":77500},{"x":0.6,"y":77000},{"x":0.6,"y":76500},{"x":0.6,"y":76000},{"x":0.6,"y":75500},{"x":0.6,"y":75000},{"x":0.6,"y":74500},{"x":0.6,"y":74000},{"x":0.6,"y":73500},{"x":0.6,"y":73000},{"x":0.6,"y":72000},{"x":0.6,"y":71500},{"x":0.6,"y":71000},{"x":0.6,"y":70000},{"x":0.6,"y":69500},{"x":0.6,"y":69000},{"x":0.6,"y":68500},{"x":0.6,"y":68000},{"x":0.6,"y":65500},
{"x":0.7,"y":87000},{"x":0.7,"y":86500},{"x":0.7,"y":86000},{"x":0.7,"y":85500},{"x":0.7,"y":85000},{"x":0.7,"y":84500},{"x":0.7,"y":84000},{"x":0.7,"y":83000},{"x":0.7,"y":82500},{"x":0.7,"y":82000},{"x":0.7,"y":81000},{"x":0.7,"y":80500},{"x":0.7,"y":80000},{"x":0.7,"y":79500},{"x":0.7,"y":79000},{"x":0.7,"y":78500},{"x":0.7,"y":78000},{"x":0.7,"y":77000},{"x":0.7,"y":76000},{"x":0.7,"y":75500},{"x":0.7,"y":75000},{"x":0.7,"y":74500},{"x":0.7,"y":74000},{"x":0.7,"y":73000},{"x":0.7,"y":72000},{"x":0.7,"y":71500},{"x":0.7,"y":69000},{"x":0.7,"y":68500},{"x":0.7,"y":68000},{"x":0.7,"y":66500},{"x":0.7,"y":66000},{"x":0.7,"y":65500},{"x":0.7,"y":61500},{"x":0.7,"y":60500},{"x":0.7,"y":52800},
{"x":0.8,"y":85200},{"x":0.8,"y":84500},{"x":0.8,"y":84000},{"x":0.8,"y":82700},{"x":0.8,"y":81000},{"x":0.8,"y":78500},{"x":0.8,"y":78000},{"x":0.8,"y":77500},{"x":0.8,"y":77000},{"x":0.8,"y":76500},{"x":0.8,"y":76000},{"x":0.8,"y":75500},{"x":0.8,"y":75000},{"x":0.8,"y":74500},{"x":0.8,"y":74000},{"x":0.8,"y":73500},{"x":0.8,"y":67500},{"x":0.8,"y":66800},{"x":0.8,"y":66000},
{"x":0.9,"y":81500},{"x":0.9,"y":74000},{"x":0.9,"y":73500},{"x":0.9,"y":72800},{"x":0.9,"y":72000},{"x":0.9,"y":71000},{"x":0.9,"y":70500},{"x":0.9,"y":66200},{"x":0.9,"y":65000},{"x":0.9,"y":64500},{"x":0.9,"y":61000},{"x":0.9,"y":46500}
],
"f": [
{"x":0,"y":0.0206},{"x":1,"y":-0.0105},{"x":1,"y":-0.0421},{"x":1,"y":-0.0476},
{"x":0.1,"y":0.0445},{"x":0.1,"y":0.035},{"x":0.1,"y":0.034},{"x":0.1,"y":0.029},{"x":0.1,"y":0.027},{"x":0.1,"y":0.023},{"x":0.1,"y":0.022},{"x":0.1,"y":0.016},{"x":0.1,"y":0.014},{"x":0.1,"y":0.013},
{"x":0.2,"y":0.035},{"x":0.2,"y":0.032},{"x":0.2,"y":0.029},{"x":0.2,"y":0.028},{"x":0.2,"y":0.027},{"x":0.2,"y":0.025},{"x":0.2,"y":0.022},{"x":0.2,"y":0.021},{"x":0.2,"y":0.02},{"x":0.2,"y":0.019},{"x":0.2,"y":0.018},{"x":0.2,"y":0.016},{"x":0.2,"y":0.014},{"x":0.2,"y":0.013},{"x":0.2,"y":0.012},{"x":0.2,"y":0.011},{"x":0.2,"y":0.01},{"x":0.2,"y":0.009},{"x":0.2,"y":0.008},{"x":0.2,"y":0.007},{"x":0.2,"y":0.006},{"x":0.2,"y":0.005},{"x":0.2,"y":0.004},{"x":0.2,"y":0.003},{"x":0.2,"y":0.002},{"x":0.2,"y":0.001},{"x":0.2,"y":0.0},{"x":0.2,"y":-0.001},{"x":0.2,"y":-0.003},{"x":0.2,"y":-0.005},{"x":0.2,"y":-0.007},{"x":0.2,"y":-0.009},{"x":0.2,"y":-0.016},
{"x":0.3,"y":0.032},{"x":0.3,"y":0.031},{"x":0.3,"y":0.025},{"x":0.3,"y":0.024},{"x":0.3,"y":0.022},{"x":0.3,"y":0.021},{"x":0.3,"y":0.02},{"x":0.3,"y":0.019},{"x":0.3,"y":0.018},{"x":0.3,"y":0.017},{"x":0.3,"y":0.016},{"x":0.3,"y":0.015},{"x":0.3,"y":0.014},{"x":0.3,"y":0.013},{"x":0.3,"y":0.012},{"x":0.3,"y":0.011},{"x":0.3,"y":0.01},{"x":0.3,"y":0.009},{"x":0.3,"y":0.008},{"x":0.3,"y":0.007},{"x":0.3,"y":0.006},{"x":0.3,"y":0.005},{"x":0.3,"y":0.004},{"x":0.3,"y":0.003},{"x":0.3,"y":0.002},{"x":0.3,"y":0.0},{"x":0.3,"y":-0.001},{"x":0.3,"y":-0.003},{"x":0.3,"y":-0.005},{"x":0.3,"y":-0.007},{"x":0.3,"y":-0.008},{"x":0.3,"y":-0.013},{"x":0.3,"y":-0.022},
{"x":0.4,"y":0.026},{"x":0.4,"y":0.024},{"x":0.4,"y":0.022},{"x":0.4,"y":0.02},{"x":0.4,"y":0.018},{"x":0.4,"y":0.016},{"x":0.4,"y":0.015},{"x":0.4,"y":0.014},{"x":0.4,"y":0.013},{"x":0.4,"y":0.012},{"x":0.4,"y":0.011},{"x":0.4,"y":0.01},{"x":0.4,"y":0.009},{"x":0.4,"y":0.008},{"x":0.4,"y":0.007},{"x":0.4,"y":0.006},{"x":0.4,"y":0.005},{"x":0.4,"y":0.004},{"x":0.4,"y":0.003},{"x":0.4,"y":0.002},{"x":0.4,"y":0.001},{"x":0.4,"y":0.0},{"x":0.4,"y":-0.001},{"x":0.4,"y":-0.002},{"x":0.4,"y":-0.003},{"x":0.4,"y":-0.004},{"x":0.4,"y":-0.005},{"x":0.4,"y":-0.006},{"x":0.4,"y":-0.007},{"x":0.4,"y":-0.008},{"x":0.4,"y":-0.011},{"x":0.4,"y":-0.012},{"x":0.4,"y":-0.013},{"x":0.4,"y":-0.016},{"x":0.4,"y":-0.02},{"x":0.4,"y":-0.022},{"x":0.4,"y":-0.025},{"x":0.4,"y":-0.028},
{"x":0.5,"y":0.02},{"x":0.5,"y":0.017},{"x":0.5,"y":0.014},{"x":0.5,"y":0.011},{"x":0.5,"y":0.01},{"x":0.5,"y":0.009},{"x":0.5,"y":0.008},{"x":0.5,"y":0.007},{"x":0.5,"y":0.006},{"x":0.5,"y":0.005},{"x":0.5,"y":0.004},{"x":0.5,"y":0.003},{"x":0.5,"y":0.002},{"x":0.5,"y":0.001},{"x":0.5,"y":0.0},{"x":0.5,"y":-0.001},{"x":0.5,"y":-0.002},{"x":0.5,"y":-0.003},{"x":0.5,"y":-0.004},{"x":0.5,"y":-0.005},{"x":0.5,"y":-0.006},{"x":0.5,"y":-0.007},{"x":0.5,"y":-0.008},{"x":0.5,"y":-0.009},{"x":0.5,"y":-0.01},{"x":0.5,"y":-0.011},{"x":0.5,"y":-0.012},{"x":0.5,"y":-0.013},{"x":0.5,"y":-0.014},{"x":0.5,"y":-0.015},{"x":0.5,"y":-0.016},{"x":0.5,"y":-0.017},{"x":0.5,"y":-0.018},{"x":0.5,"y":-0.019},{"x":0.5,"y":-0.02},{"x":0.5,"y":-0.023},{"x":0.5,"y":-0.026},{"x":0.5,"y":-0.031},
{"x":0.6,"y":0.022},{"x":0.6,"y":0.021},{"x":0.6,"y":0.018},{"x":0.6,"y":0.011},{"x":0.6,"y":0.005},{"x":0.6,"y":0.004},{"x":0.6,"y":0.002},{"x":0.6,"y":0.001},{"x":0.6,"y":0.0},{"x":0.6,"y":-0.001},{"x":0.6,"y":-0.002},{"x":0.6,"y":-0.003},{"x":0.6,"y":-0.004},{"x":0.6,"y":-0.005},{"x":0.6,"y":-0.006},{"x":0.6,"y":-0.007},{"x":0.6,"y":-0.008},{"x":0.6,"y":-0.009},{"x":0.6,"y":-0.01},{"x":0.6,"y":-0.011},{"x":0.6,"y":-0.012},{"x":0.6,"y":-0.013},{"x":0.6,"y":-0.014},{"x":0.6,"y":-0.015},{"x":0.6,"y":-0.016},{"x":0.6,"y":-0.017},{"x":0.6,"y":-0.018},{"x":0.6,"y":-0.019},{"x":0.6,"y":-0.02},{"x":0.6,"y":-0.021},{"x":0.6,"y":-0.023},{"x":0.6,"y":-0.024},{"x":0.6,"y":-0.026},{"x":0.6,"y":-0.028},{"x":0.6,"y":-0.029},{"x":0.6,"y":-0.033},{"x":0.6,"y":-0.034},{"x":0.6,"y":-0.04},{"x":0.6,"y":-0.042},{"x":0.6,"y":-0.044},{"x":0.6,"y":-0.071},
{"x":0.7,"y":0.022},{"x":0.7,"y":0.002},{"x":0.7,"y":0.001},{"x":0.7,"y":-0.001},{"x":0.7,"y":-0.003},{"x":0.7,"y":-0.004},{"x":0.7,"y":-0.005},{"x":0.7,"y":-0.006},{"x":0.7,"y":-0.007},{"x":0.7,"y":-0.008},{"x":0.7,"y":-0.009},{"x":0.7,"y":-0.01},{"x":0.7,"y":-0.011},{"x":0.7,"y":-0.012},{"x":0.7,"y":-0.013},{"x":0.7,"y":-0.014},{"x":0.7,"y":-0.015},{"x":0.7,"y":-0.016},{"x":0.7,"y":-0.017},{"x":0.7,"y":-0.018},{"x":0.7,"y":-0.02},{"x":0.7,"y":-0.022},{"x":0.7,"y":-0.024},{"x":0.7,"y":-0.026},{"x":0.7,"y":-0.029},{"x":0.7,"y":-0.03},{"x":0.7,"y":-0.031},{"x":0.7,"y":-0.033},{"x":0.7,"y":-0.035},{"x":0.7,"y":-0.041},
{"x":0.8,"y":-0.004},{"x":0.8,"y":-0.007},{"x":0.8,"y":-0.009},{"x":0.8,"y":-0.01},{"x":0.8,"y":-0.012},{"x":0.8,"y":-0.014},{"x":0.8,"y":-0.015},{"x":0.8,"y":-0.016},{"x":0.8,"y":-0.017},{"x":0.8,"y":-0.019},{"x":0.8,"y":-0.02},{"x":0.8,"y":-0.021},{"x":0.8,"y":-0.022},{"x":0.8,"y":-0.024},{"x":0.8,"y":-0.026},{"x":0.8,"y":-0.027},{"x":0.8,"y":-0.028},{"x":0.8,"y":-0.03},{"x":0.8,"y":-0.032},{"x":0.8,"y":-0.034},{"x":0.8,"y":-0.039},
{"x":0.9,"y":-0.018},{"x":0.9,"y":-0.02},{"x":0.9,"y":-0.022},{"x":0.9,"y":-0.025},{"x":0.9,"y":-0.027},{"x":0.9,"y":-0.029},{"x":0.9,"y":-0.031},{"x":0.9,"y":-0.036},{"x":0.9,"y":-0.042},{"x":0.9,"y":-0.043},{"x":0.9,"y":-0.046},{"x":0.9,"y":-0.047}
]
},
"vconcat": [
 {"bounds": "flush", "spacing": 65, "hconcat": [
  {"width": 330, "height": 256, "data": {"name": "a"},
   "layer": [
    {"mark": {"type": "point", "clip": true},
     "encoding": {
      "x": {"field": "x", "type": "quantitative", "scale": {"domain": [0, 1], "nice": false, "zero": false}, "axis": {"values": [0,0.1,0.2,0.3,0.4,0.5,0.6,0.7,0.8,0.9,1], "format": "~g", "title": "(a) Noise vs. Topological Error: r = 0.36.", "titleX": 151}},
      "y": {"field": "y", "type": "quantitative", "scale": {"domain": [0, 0.08], "nice": false, "zero": false}, "axis": {"values": [0,0.01,0.02,0.03,0.04,0.05,0.06,0.07,0.08], "format": "~g", "title": null}}}},
    {"mark": {"type": "point", "opacity": 0},
     "encoding": {
      "x": {"field": "x", "type": "quantitative", "axis": {"orient": "top", "labels": false, "title": null, "values": [0,0.1,0.2,0.3,0.4,0.5,0.6,0.7,0.8,0.9,1]}},
      "y": {"field": "y", "type": "quantitative", "axis": {"orient": "right", "labels": false, "title": null, "values": [0,0.01,0.02,0.03,0.04,0.05,0.06,0.07,0.08]}}}}
   ],
   "resolve": {"axis": {"x": "independent", "y": "independent"}}},
  {"width": 326, "height": 256, "data": {"name": "b"},
   "layer": [
    {"mark": {"type": "point", "clip": true},
     "encoding": {
      "x": {"field": "x", "type": "quantitative", "scale": {"domain": [0, 1], "nice": false, "zero": false}, "axis": {"values": [0,0.1,0.2,0.3,0.4,0.5,0.6,0.7,0.8,0.9,1], "format": "~g", "title": "(b) Noise vs. Quantification Error: r = −0.20.", "titleX": 151}},
      "y": {"field": "y", "type": "quantitative", "scale": {"domain": [2, 3], "nice": false, "zero": false}, "axis": {"values": [2,2.1,2.2,2.3,2.4,2.5,2.6,2.7,2.8,2.9,3], "format": "~g", "title": null}}}},
    {"mark": {"type": "point", "opacity": 0},
     "encoding": {
      "x": {"field": "x", "type": "quantitative", "axis": {"orient": "top", "labels": false, "title": null, "values": [0,0.1,0.2,0.3,0.4,0.5,0.6,0.7,0.8,0.9,1]}},
      "y": {"field": "y", "type": "quantitative", "axis": {"orient": "right", "labels": false, "title": null, "values": [2,2.1,2.2,2.3,2.4,2.5,2.6,2.7,2.8,2.9,3]}}}}
   ],
   "resolve": {"axis": {"x": "independent", "y": "independent"}}},
  {"width": 321, "height": 256, "data": {"name": "c"},
   "layer": [
    {"mark": {"type": "point", "clip": true},
     "encoding": {
      "x": {"field": "x", "type": "quantitative", "scale": {"domain": [0, 1], "nice": false, "zero": false}, "axis": {"values": [0,0.1,0.2,0.3,0.4,0.5,0.6,0.7,0.8,0.9,1], "format": "~g", "title": "(c) Noise vs. Calinski-Harabasz: r = −0.69.", "titleX": 152}},
      "y": {"field": "y", "type": "quantitative", "scale": {"domain": [0, 400], "nice": false, "zero": false}, "axis": {"values": [0,50,100,150,200,250,300,350,400], "format": "d", "title": null}}}},
    {"mark": {"type": "point", "opacity": 0},
     "encoding": {
      "x": {"field": "x", "type": "quantitative", "axis": {"orient": "top", "labels": false, "title": null, "values": [0,0.1,0.2,0.3,0.4,0.5,0.6,0.7,0.8,0.9,1]}},
      "y": {"field": "y", "type": "quantitative", "axis": {"orient": "right", "labels": false, "title": null, "values": [0,50,100,150,200,250,300,350,400]}}}}
   ],
   "resolve": {"axis": {"x": "independent", "y": "independent"}}}
 ]},
 {"bounds": "flush", "spacing": 63, "hconcat": [
  {"width": 329, "height": 256, "data": {"name": "d"},
   "layer": [
    {"mark": {"type": "point", "clip": true},
     "encoding": {
      "x": {"field": "x", "type": "quantitative", "scale": {"domain": [0, 1], "nice": false, "zero": false}, "axis": {"values": [0,0.1,0.2,0.3,0.4,0.5,0.6,0.7,0.8,0.9,1], "format": "~g", "title": "(d) Noise vs. Davies-Bouldin: r = 0.56.", "titleX": 157}},
      "y": {"field": "y", "type": "quantitative", "scale": {"domain": [3, 6], "nice": false, "zero": false}, "axis": {"values": [3,3.5,4,4.5,5,5.5,6], "format": "~g", "title": null}}}},
    {"mark": {"type": "point", "opacity": 0},
     "encoding": {
      "x": {"field": "x", "type": "quantitative", "axis": {"orient": "top", "labels": false, "title": null, "values": [0,0.1,0.2,0.3,0.4,0.5,0.6,0.7,0.8,0.9,1]}},
      "y": {"field": "y", "type": "quantitative", "axis": {"orient": "right", "labels": false, "title": null, "values": [3,3.5,4,4.5,5,5.5,6]}}}}
   ],
   "resolve": {"axis": {"x": "independent", "y": "independent"}}},
  {"width": 330, "height": 256, "data": {"name": "e"},
   "title": {"text": "x 10⁴", "anchor": "start", "fontSize": 8, "font": "Liberation Sans", "fontWeight": "normal", "color": "#555", "offset": 2},
   "layer": [
    {"mark": {"type": "point", "clip": true},
     "encoding": {
      "x": {"field": "x", "type": "quantitative", "scale": {"domain": [0, 1], "nice": false, "zero": false}, "axis": {"values": [0,0.1,0.2,0.3,0.4,0.5,0.6,0.7,0.8,0.9,1], "format": "~g", "title": "(e) Noise vs. Krzanowski-Lai: r = −0.17.", "titleX": 160}},
      "y": {"field": "y", "type": "quantitative", "scale": {"domain": [45000, 90000], "nice": false, "zero": false}, "axis": {"values": [45000,50000,55000,60000,65000,70000,75000,80000,85000,90000], "labelExpr": "format(datum.value/10000, '~g')", "title": null}}}},
    {"mark": {"type": "point", "opacity": 0},
     "encoding": {
      "x": {"field": "x", "type": "quantitative", "axis": {"orient": "top", "labels": false, "title": null, "values": [0,0.1,0.2,0.3,0.4,0.5,0.6,0.7,0.8,0.9,1]}},
      "y": {"field": "y", "type": "quantitative", "axis": {"orient": "right", "labels": false, "title": null, "values": [45000,50000,55000,60000,65000,70000,75000,80000,85000,90000]}}}}
   ],
   "resolve": {"axis": {"x": "independent", "y": "independent"}}},
  {"width": 326, "height": 256, "data": {"name": "f"},
   "layer": [
    {"mark": {"type": "point", "clip": true},
     "encoding": {
      "x": {"field": "x", "type": "quantitative", "scale": {"domain": [0, 1], "nice": false, "zero": false}, "axis": {"values": [0,0.1,0.2,0.3,0.4,0.5,0.6,0.7,0.8,0.9,1], "format": "~g", "title": "(f) Noise vs. Silhouette: r = −0.74.", "titleX": 150}},
      "y": {"field": "y", "type": "quantitative", "scale": {"domain": [-0.08, 0.06], "nice": false, "zero": false}, "axis": {"values": [-0.08,-0.06,-0.04,-0.02,0,0.02,0.04,0.06], "labelExpr": "replace(format(datum.value, '~g'), '−', '-')", "title": null}}}},
    {"mark": {"type": "point", "opacity": 0},
     "encoding": {
      "x": {"field": "x", "type": "quantitative", "axis": {"orient": "top", "labels": false, "title": null, "values": [0,0.1,0.2,0.3,0.4,0.5,0.6,0.7,0.8,0.9,1]}},
      "y": {"field": "y", "type": "quantitative", "axis": {"orient": "right", "labels": false, "title": null, "values": [-0.08,-0.06,-0.04,-0.02,0,0.02,0.04,0.06]}}}}
   ],
   "resolve": {"axis": {"x": "independent", "y": "independent"}}}
 ]}
]
}
